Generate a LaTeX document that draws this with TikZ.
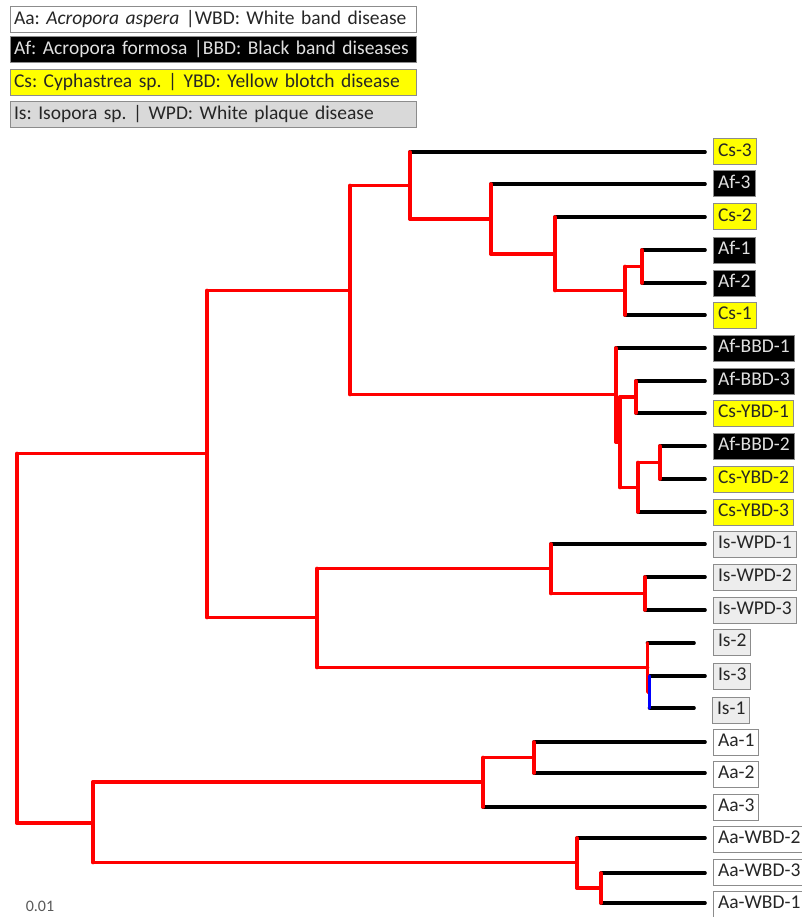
\documentclass[tikz,border=0pt]{standalone}
\usepackage{fontspec}
\setmainfont{Carlito}
\frenchspacing
\definecolor{tred}{HTML}{FF0000}
\definecolor{tblue}{HTML}{0000FF}
\definecolor{tyel}{HTML}{FFFF00}
\definecolor{lgray}{HTML}{D9D9D9}
\definecolor{lgraytwo}{HTML}{EDEDED}
\definecolor{bord}{HTML}{8C8C8C}
\definecolor{txt}{HTML}{262626}
\definecolor{sctxt}{HTML}{595959}
\tikzset{
  br/.style={draw=tred, line width=3.6pt, line cap=round, line join=round},
  lf/.style={draw=black, line width=3.6pt, line cap=round},
  bl/.style={draw=tblue, line width=3.6pt, line cap=round},
  lab/.style={anchor=west, draw=bord, line width=1pt, inner xsep=4.5pt, inner ysep=0pt,
    minimum height=26pt, font=\fontsize{19.5}{21}\selectfont, text height=13.5pt, text depth=4pt},
  labaa/.style={lab, fill=white, text=txt},
  labaf/.style={lab, fill=black, text=white!88!black},
  labcs/.style={lab, fill=tyel, text=txt},
  labis/.style={lab, fill=lgraytwo, text=txt},
  leg/.style={anchor=west, draw=bord, line width=1pt, text width=399pt, align=left,
    inner xsep=3.5pt, inner ysep=0pt, minimum height=26pt,
    font=\fontsize{19.5}{21}\selectfont, text height=13.5pt, text depth=4pt},
}
\begin{document}
\begin{tikzpicture}[x=1pt, y=-1pt]
\useasboundingbox (0,0) rectangle (801,917);
\fill[white] (0,0) rectangle (801,917);

% legend
\node[leg, fill=white, text=txt] (leg1) at (10,19.5) {Aa: \textit{Acropora aspera} |WBD: White band disease};
\node[leg, fill=black, text=white!88!black] (leg2) at (10,50) {Af: Acropora formosa |BBD: Black band diseases};
\node[leg, fill=tyel, text=txt] (leg3) at (10,82.5) {Cs: Cyphastrea sp. | YBD: Yellow blotch disease};
\node[leg, fill=lgray, text=txt] (leg4) at (10,114.5) {Is: Isopora sp. | WPD: White plaque disease};

% leaf ends
\coordinate (e-cs3) at (705,152);
\coordinate (e-af3) at (705,184);
\coordinate (e-cs2) at (705,217);
\coordinate (e-af1) at (705,250);
\coordinate (e-af2) at (705,283);
\coordinate (e-cs1) at (705,315);
\coordinate (e-bbd1) at (705,348);
\coordinate (e-bbd3) at (705,381);
\coordinate (e-ybd1) at (705,413);
\coordinate (e-bbd2) at (705,446);
\coordinate (e-ybd2) at (705,479);
\coordinate (e-ybd3) at (705,512);
\coordinate (e-wpd1) at (705,544);
\coordinate (e-wpd2) at (705,577);
\coordinate (e-wpd3) at (705,610);
\coordinate (e-is2) at (694,643);
\coordinate (e-is3) at (705,676);
\coordinate (e-is1) at (694,708);
\coordinate (e-aa1) at (705,742);
\coordinate (e-aa2) at (705,773);
\coordinate (e-aa3) at (705,807);
\coordinate (e-wbd2) at (705,838);
\coordinate (e-wbd3) at (705,873);
\coordinate (e-wbd1) at (705,903);

% labels
\node[labcs] (l-cs3) at (713,152) {Cs-3};
\node[labaf] (l-af3) at (713,184) {Af-3};
\node[labcs] (l-cs2) at (713,217) {Cs-2};
\node[labaf] (l-af1) at (713,250) {Af-1};
\node[labaf] (l-af2) at (713,283) {Af-2};
\node[labcs] (l-cs1) at (713,315) {Cs-1};
\node[labaf] (l-bbd1) at (713,348) {Af-BBD-1};
\node[labaf] (l-bbd3) at (713,381) {Af-BBD-3};
\node[labcs] (l-ybd1) at (713,413) {Cs-YBD-1};
\node[labaf] (l-bbd2) at (713,446) {Af-BBD-2};
\node[labcs] (l-ybd2) at (713,479) {Cs-YBD-2};
\node[labcs] (l-ybd3) at (713,512) {Cs-YBD-3};
\node[labis] (l-wpd1) at (713,544) {Is-WPD-1};
\node[labis] (l-wpd2) at (713,577) {Is-WPD-2};
\node[labis] (l-wpd3) at (713,610) {Is-WPD-3};
\node[labis] (l-is2) at (713,642) {Is-2};
\node[labis] (l-is3) at (713,676) {Is-3};
\node[labis] (l-is1) at (712,710) {Is-1};
\node[labaa] (l-aa1) at (713,742) {Aa-1};
\node[labaa] (l-aa2) at (713,774) {Aa-2};
\node[labaa] (l-aa3) at (713,807) {Aa-3};
\node[labaa] (l-wbd2) at (713,839) {Aa-WBD-2};
\node[labaa] (l-wbd3) at (713,872) {Aa-WBD-3};
\node[labaa] (l-wbd1) at (713,904) {Aa-WBD-1};

% internal nodes
\coordinate (n1) at (17,638);
\coordinate (n2) at (207,453.5);
\coordinate (n3) at (350,290.5);
\coordinate (n4) at (410,185.5);
\coordinate (n5) at (491,219);
\coordinate (n6) at (555,254);
\coordinate (n7) at (625,290.5);
\coordinate (n8) at (642,266.5);
\coordinate (n9) at (616,394.5);
\coordinate (n10) at (620,442);
\coordinate (n11) at (636,397);
\coordinate (n12) at (638,487.5);
\coordinate (n13) at (660,462.5);
\coordinate (n14) at (317,617.5);
\coordinate (n15) at (551,568.5);
\coordinate (n16) at (645,593.5);
\coordinate (n17) at (647.5,667.5);
\coordinate (n17b) at (649.5,692);
\coordinate (n20) at (93,823);
\coordinate (n21) at (483,782);
\coordinate (n22) at (534,757.5);
\coordinate (n23) at (577,862.5);
\coordinate (n24) at (601,888);

% black leaf branches
\foreach \p/\c in {n4/e-cs3, n5/e-af3, n6/e-cs2, n7/e-cs1, n8/e-af1, n8/e-af2,
  n9/e-bbd1, n11/e-bbd3, n11/e-ybd1, n12/e-ybd3, n13/e-bbd2, n13/e-ybd2,
  n15/e-wpd1, n16/e-wpd2, n16/e-wpd3, n17/e-is2, n17b/e-is3, n17b/e-is1,
  n22/e-aa1, n22/e-aa2, n21/e-aa3, n23/e-wbd2, n24/e-wbd3, n24/e-wbd1}
  \draw[lf] (\p |- \c) -- (\c);

% red internal horizontals
\foreach \p/\c in {n1/n2, n1/n20, n2/n3, n2/n14, n3/n4, n3/n9, n4/n5, n5/n6, n6/n7,
  n7/n8, n9/n10, n10/n11, n10/n12, n12/n13, n14/n15, n14/n17, n15/n16,
  n20/n21, n20/n23, n21/n22, n23/n24}
  \draw[br] (\p |- \c) -- (\c);

% red verticals
\foreach \p/\a/\b in {n1/n2/n20, n2/n3/n14, n3/n4/n9, n4/e-cs3/n5, n5/e-af3/n6,
  n6/e-cs2/n7, n7/n8/e-cs1, n8/e-af1/e-af2, n9/e-bbd1/n10, n10/n11/n12,
  n11/e-bbd3/e-ybd1, n12/n13/e-ybd3, n13/e-bbd2/e-ybd2, n14/n15/n17,
  n15/e-wpd1/n16, n16/e-wpd2/e-wpd3, n17/e-is2/n17b, n20/n21/n23,
  n21/n22/e-aa3, n22/e-aa1/e-aa2, n23/e-wbd2/n24, n24/e-wbd3/e-wbd1}
  \draw[br] (\p |- \a) -- (\p |- \b);

% blue zero-length clade
\draw[bl] (n17b |- e-is3) -- (n17b |- e-is1);

% scale text
\node[font=\fontsize{16}{18}\selectfont, text=sctxt] (scale) at (40,906) {0.01};
\end{tikzpicture}
\end{document}
